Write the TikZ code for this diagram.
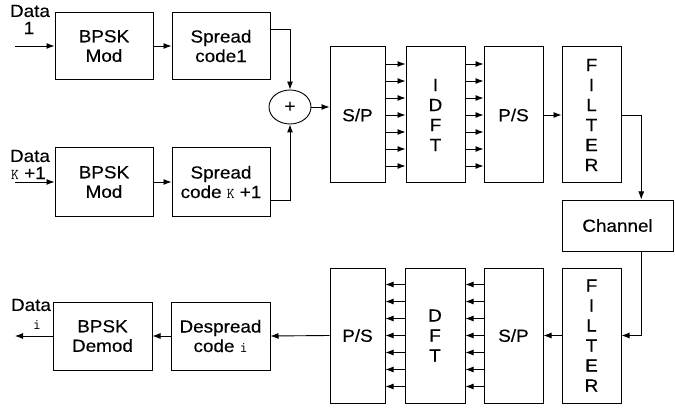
\documentclass[tikz,border=0pt]{standalone}
\usepackage{fontspec}
\setmainfont{Liberation Sans}[FakeStretch=1.08,FakeBold=0.3]
\usetikzlibrary{arrows.meta,calc,shapes.geometric}
\newcommand\tvar[1]{{\ttfamily\fontsize{15}{15}\selectfont #1}}
\begin{document}
\begin{tikzpicture}[x=1pt,y=-1pt,
  blk/.style={draw, line width=1pt, align=center, inner sep=0pt, font=\fontsize{17.5}{19.5}\selectfont},
  vblk/.style={draw, line width=1pt, align=center, inner sep=0pt, font=\fontsize{17.5}{20}\selectfont, minimum height=136pt},
  lbl/.style={inner sep=0pt, font=\fontsize{17.5}{19}\selectfont},
  arr/.style={line width=0.9pt, -{Latex[length=8pt,width=6pt]}},
  ln/.style={line width=0.9pt}]
\useasboundingbox (0,0) rectangle (675,409);

% transmitter
\node[blk, minimum width=98pt, minimum height=67pt] (bm1) at (104,46) {BPSK\\Mod};
\node[blk, minimum width=98pt, minimum height=67pt] (sc1) at (221,46) {Spread\\code1};
\node[blk, minimum width=98pt, minimum height=68pt] (bm2) at (104,182) {BPSK\\Mod};
\node[blk, minimum width=98pt, minimum height=68pt] (sc2) at (221,182) {Spread\\code \tvar{K} +1};
\node[draw, ellipse, line width=0.9pt, minimum width=42pt, minimum height=34pt, inner sep=0pt, font=\fontsize{18}{18}\selectfont] (sum) at (290,107) {+};

\node[vblk, minimum width=55pt] (sp1) at (357.5,115) {S/P};
\node[vblk, minimum width=59pt] (idft) at (435.5,115) {I\\D\\F\\T};
\node[vblk, minimum width=59pt] (ps1) at (513.5,115) {P/S};
\node[vblk, minimum width=59pt] (f1) at (591.5,115) {F\\I\\L\\T\\E\\R};

\node[blk, minimum width=111pt, minimum height=51pt] (ch) at (617.5,225.5) {Channel};

% receiver
\node[vblk, minimum width=59pt, minimum height=135pt] (f2) at (591.5,335.5) {F\\I\\L\\T\\E\\R};
\node[vblk, minimum width=59pt, minimum height=135pt] (sp2) at (513.5,335.5) {S/P};
\node[vblk, minimum width=60pt, minimum height=135pt] (dft) at (435,335.5) {D\\F\\T};
\node[vblk, minimum width=55pt, minimum height=135pt] (ps2) at (357.5,335.5) {P/S};
\node[blk, minimum width=99pt, minimum height=68pt] (ds) at (220.5,336) {Despread\\code \tvar{i}};
\node[blk, minimum width=99pt, minimum height=68pt] (bd) at (102.5,336) {BPSK\\Demod};

% labels
\node[lbl] (l1a) at (30,11) {Data};
\node[lbl] (l1b) at (29,28) {1};
\node[lbl] (l2a) at (30,156) {Data};
\node[lbl, anchor=west] (l2b) at (11,173) {\tvar{K} +1};
\node[lbl] (l3a) at (31,305) {Data};
\node[lbl] (l3b) at (37,325) {\tvar{i}};

% inputs / outputs
\coordinate (in1) at (15,46);
\coordinate (in2) at (15,182);
\coordinate (out1) at (15,336);
\draw[arr] (in1) -- (bm1.west);
\draw[arr] (in2) -- (bm2.west);
\draw[arr] (bm1.east) -- (sc1.west);
\draw[arr] (bm2.east) -- (sc2.west);
\coordinate (o1) at ($(sc1.east)+(0,-17)$);
\coordinate (o2) at ($(sc2.east)+(0,18)$);
\draw[arr] (o1) -| (sum.north);
\draw[arr] (o2) -| (sum.south);
\draw[arr] (sum.east) -- (sum.east -| sp1.west);

\foreach \k in {-3,...,3} {
  \draw[arr] ($(sp1.east)+(0,17*\k)$) -- ($(idft.west)+(0,17*\k)$);
  \draw[arr] ($(idft.east)+(0,17*\k)$) -- ($(ps1.west)+(0,17*\k)$);
  \draw[arr] ($(sp2.west)+(0,17*\k)$) -- ($(dft.east)+(0,17*\k)$);
  \draw[arr] ($(dft.west)+(0,17*\k)$) -- ($(ps2.east)+(0,17*\k)$);
}
\draw[arr] (ps1.east) -- (f1.west);
\coordinate (chin) at ($(ch.north west)!0.712!(ch.north east)$);
\coordinate (chout) at ($(ch.south west)!0.712!(ch.south east)$);
\draw[arr] (f1.east) -| (chin);
\draw[arr] (chout) |- (f2.east);
\draw[arr] (f2.west) -- (sp2.east);
\draw[arr] (ps2.west) -- (ds.east);
\draw[arr] (ds.west) -- (bd.east);
\draw[arr] (bd.west) -- (out1);
\end{tikzpicture}
\end{document}
